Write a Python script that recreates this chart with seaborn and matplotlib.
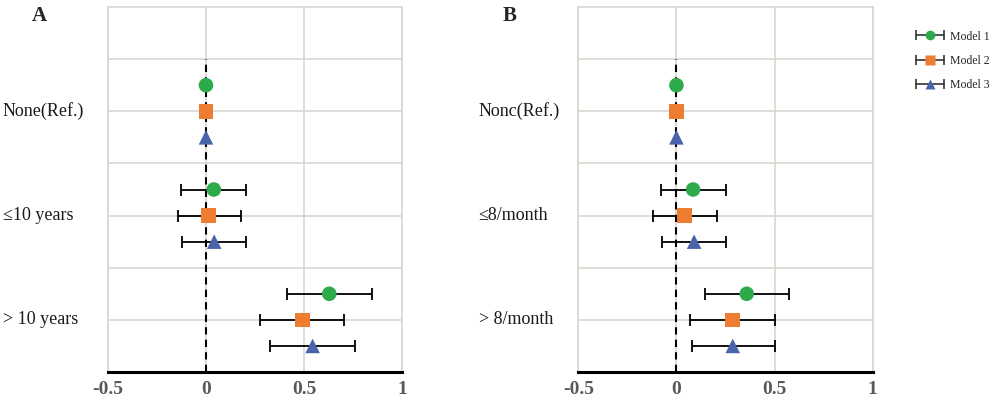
import matplotlib
matplotlib.use("Agg")
import matplotlib.pyplot as plt
import matplotlib.transforms as mtransforms
from matplotlib.lines import Line2D
from matplotlib.legend_handler import HandlerTuple, HandlerLine2D
import pandas as pd
import seaborn as sns

sns.set_style("white")
plt.rcParams['font.family'] = ['Liberation Serif', 'DejaVu Serif']

# Data
models = ["Model 1", "Model 2", "Model 3"]
model_colors = ["#2EAA4A", "#ED7D31", "#4A64AC"]
model_markers = ["o", "s", "^"]

cats_a = ["None(Ref.)", "\u226410 years", "> 10 years"]
est_a = [[0.0, 0.0, 0.0], [0.04, 0.013, 0.042], [0.629, 0.493, 0.544]]
low_a = [[0.0, 0.0, 0.0], [-0.125, -0.145, -0.121], [0.411, 0.276, 0.328]]
high_a = [[0.0, 0.0, 0.0], [0.204, 0.179, 0.202], [0.848, 0.706, 0.760]]

cats_b = ["Nonc(Ref.)", "\u22648/month", "> 8/month"]
est_b = [[0.0, 0.0, 0.0], [0.085, 0.041, 0.09], [0.358, 0.285, 0.287]]
low_b = [[0.0, 0.0, 0.0], [-0.078, -0.121, -0.071], [0.148, 0.071, 0.077]]
high_b = [[0.0, 0.0, 0.0], [0.251, 0.209, 0.253], [0.576, 0.500, 0.500]]

x_ticks = [-0.5, 0, 0.5, 1]
x_tick_labels = ["-0.5", "0", "0.5", "1"]

cat_pos = [5, 3, 1]
model_offset = [0.5, 0, -0.5]

grid_col = "#DAD5CF"


def make_df(cats, est, low, high):
    rows = []
    for i, c in enumerate(cats):
        for j, m in enumerate(models):
            rows.append({"category": c, "model": m,
                         "est": est[i][j], "low": low[i][j], "high": high[i][j],
                         "y": cat_pos[i] + model_offset[j]})
    return pd.DataFrame(rows)


fig = plt.figure(figsize=(9.95, 4.0), dpi=100)
ax_a = fig.add_axes([0.1085, 0.07, 0.2955, 0.9125])
ax_b = fig.add_axes([0.5812, 0.07, 0.2959, 0.9125])

panels = [(ax_a, cats_a, est_a, low_a, high_a, "A", 0.032, 0.0030),
          (ax_b, cats_b, est_b, low_b, high_b, "B", 0.505, 0.481)]

for ax, cats, est, low, high, letter, lx, cx in panels:
    df = make_df(cats, est, low, high)

    # error bars
    for j, m in enumerate(models):
        sub = df[df["model"] == m]
        ax.errorbar(sub["est"], sub["y"],
                    xerr=[sub["est"] - sub["low"], sub["high"] - sub["est"]],
                    fmt="none", ecolor="black", elinewidth=1.3,
                    capsize=4, capthick=1.3, zorder=3)

    # reference line
    ax.plot([0, 0], [0, 6], color="black", linestyle=(0, (3.5, 2.5)), lw=1.5, zorder=2)

    # markers
    sns.scatterplot(data=df, x="est", y="y", hue="model", style="model",
                    palette=model_colors, markers=model_markers,
                    hue_order=models, style_order=models,
                    s=110, edgecolor="none", legend=False, ax=ax, zorder=4)

    ax.set_xlim(-0.5, 1)
    ax.set_ylim(0, 7)
    ax.set_xlabel("")
    ax.set_ylabel("")
    ax.set_xticks(x_ticks)
    ax.set_xticklabels(x_tick_labels, fontsize=14, fontweight="bold", color="#595959")
    ax.set_yticks(range(1, 7))
    ax.set_yticklabels([])
    ax.tick_params(axis="y", length=0)
    ax.tick_params(axis="x", direction="inout", length=7, width=2.2, color="black", pad=3)
    ax.grid(True, axis="both", color=grid_col, lw=1.2, zorder=0)
    for s in ["left", "top", "right"]:
        ax.spines[s].set_color(grid_col)
        ax.spines[s].set_linewidth(1.2)
    ax.spines["bottom"].set_color("black")
    ax.spines["bottom"].set_linewidth(2.2)
    ax.spines["bottom"].set_zorder(5)

    # category labels
    trans = mtransforms.blended_transform_factory(fig.transFigure, ax.transData)
    for i, c in enumerate(cats):
        fig.text(cx, cat_pos[i], c, transform=trans, ha="left", va="center",
                 fontsize=13, color="#1A1A1A")

    fig.text(lx, 0.985, letter, ha="left", va="top", fontsize=15, fontweight="bold")

# legend: horizontal error bar with caps and a coloured marker
handles = []
hmap = {tuple: HandlerTuple(ndivide=1)}
for j, m in enumerate(models):
    bar = Line2D([], [], color="#333333", lw=1.2)
    caps = Line2D([], [], linestyle="none", marker="|", markersize=7,
                  markeredgewidth=1.2, color="#333333")
    mk = Line2D([], [], linestyle="none", marker=model_markers[j], markersize=7,
                markerfacecolor=model_colors[j], markeredgecolor="none")
    hmap[caps] = HandlerLine2D(numpoints=2, marker_pad=0)
    hmap[mk] = HandlerLine2D(numpoints=1)
    handles.append((bar, caps, mk))

fig.legend(handles, models, handler_map=hmap,
           loc="upper left", bbox_to_anchor=(0.91, 0.95), frameon=False,
           fontsize=8.5, handlelength=2.4, labelspacing=1.05, handletextpad=0.5)

fig.savefig("out.png", dpi=100)
